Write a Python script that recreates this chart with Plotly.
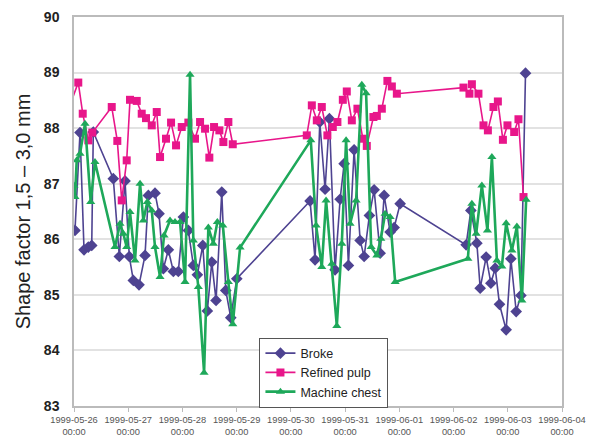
import numpy as np
import pandas as pd
import plotly.graph_objects as go

START = pd.Timestamp("1999-05-26 00:00")

# elapsed days from 1999-05-26 00:00 and values
broke_days = [0.018, 0.111, 0.185, 0.264, 0.327, 0.356, 0.725, 0.836, 0.941, 1.020,
              1.094, 1.199, 1.310, 1.371, 1.494, 1.568, 1.648, 1.740, 1.832, 1.924,
              2.017, 2.109, 2.201, 2.275, 2.375, 2.459, 2.541, 2.620, 2.725, 2.799,
              2.891, 3.002, 4.354, 4.446, 4.533, 4.631, 4.710, 4.815, 4.908, 4.982,
              5.061, 5.166, 5.277, 5.351, 5.448, 5.535, 5.646, 5.720, 5.830, 5.904,
              6.015, 7.232, 7.319, 7.430, 7.491, 7.601, 7.688, 7.768, 7.847, 7.970,
              8.057, 8.155, 8.242, 8.327]
broke_vals = [86.16, 87.92, 85.81, 85.86, 85.89, 87.93, 87.09, 85.69, 87.05, 85.69,
              85.26, 85.18, 85.71, 86.79, 86.83, 86.46, 85.47, 85.81, 85.42, 85.42,
              86.40, 86.16, 85.53, 85.36, 85.89, 84.71, 85.59, 84.90, 86.85, 85.08,
              84.59, 85.29, 86.69, 85.63, 88.11, 86.90, 88.17, 85.45, 86.72, 87.36,
              85.53, 87.61, 85.98, 85.69, 86.43, 86.89, 85.75, 86.79, 86.13, 86.21,
              86.64, 85.90, 86.52, 85.93, 85.12, 85.68, 85.21, 85.48, 84.83, 84.37,
              85.65, 84.70, 84.99, 88.99]

pulp_days = [-0.08, 0.079, 0.161, 0.264, 0.338, 0.696, 0.799, 0.880, 0.972, 1.033,
             1.157, 1.249, 1.328, 1.434, 1.526, 1.587, 1.697, 1.790, 1.882, 1.987,
             2.109, 2.232, 2.325, 2.417, 2.496, 2.583, 2.681, 2.755, 2.847, 2.928,
             4.293, 4.386, 4.478, 4.570, 4.673, 4.773, 4.858, 4.958, 5.031, 5.124,
             5.227, 5.327, 5.400, 5.522, 5.585, 5.677, 5.780, 5.862, 5.954, 7.183,
             7.293, 7.338, 7.459, 7.552, 7.633, 7.736, 7.817, 7.910, 7.994, 8.118,
             8.197, 8.290]
pulp_vals = [88.40, 88.82, 88.26, 87.78, 87.92, 88.38, 87.77, 86.70, 87.42, 88.51,
             88.49, 88.26, 88.18, 88.05, 88.29, 87.48, 87.81, 88.10, 87.69, 88.02,
             88.10, 87.81, 88.11, 87.99, 87.47, 88.02, 87.96, 87.75, 88.11, 87.71,
             87.87, 88.41, 88.14, 88.38, 87.87, 88.02, 88.11, 88.51, 88.66, 88.14,
             88.35, 87.81, 87.68, 88.20, 88.22, 88.35, 88.85, 88.75, 88.62, 88.73,
             88.62, 88.79, 88.62, 88.05, 87.96, 88.38, 88.48, 87.79, 88.05, 87.93,
             88.16, 86.76]

chest_days = [0.000, 0.018, 0.050, 0.111, 0.203, 0.308, 0.387, 0.756, 0.849, 0.910,
              0.972, 1.033, 1.125, 1.218, 1.279, 1.352, 1.434, 1.494, 1.587, 1.661,
              1.771, 1.863, 1.956, 2.048, 2.140, 2.201, 2.293, 2.399, 2.478, 2.570,
              2.644, 2.744, 2.847, 2.928, 3.063, 4.367, 4.465, 4.570, 4.649, 4.755,
              4.847, 4.939, 5.018, 5.092, 5.203, 5.308, 5.387, 5.480, 5.585, 5.659,
              5.738, 5.830, 5.923, 7.264, 7.338, 7.417, 7.522, 7.625, 7.707, 7.799,
              7.891, 7.970, 8.076, 8.168, 8.260, 8.339]
chest_vals = [86.97, 86.76, 87.42, 87.54, 88.08, 86.67, 87.39, 85.86, 86.28, 86.10,
              85.86, 86.49, 85.62, 87.00, 86.34, 86.67, 86.52, 85.86, 85.32, 86.07,
              86.34, 86.31, 86.31, 85.23, 88.96, 85.98, 85.14, 83.60, 86.21, 85.92,
              86.31, 86.25, 85.23, 84.47, 85.85, 87.78, 86.25, 85.50, 86.70, 85.56,
              84.44, 85.92, 87.78, 86.28, 86.70, 88.78, 88.63, 85.86, 85.71, 86.01,
              86.46, 86.40, 85.23, 85.65, 86.64, 86.10, 86.97, 86.16, 87.48, 85.62,
              85.51, 86.29, 85.80, 86.23, 84.90, 86.71]


def to_dates(days):
    return START + pd.to_timedelta(np.array(days) * 86400.0, unit="s")


FONT = "Arial, Liberation Sans, sans-serif"

fig = go.Figure()
fig.add_trace(go.Scatter(
    x=to_dates(broke_days), y=broke_vals, name="Broke", mode="lines+markers",
    line=dict(color="#4e4391", width=1.6),
    marker=dict(symbol="diamond", size=9, color="#4e4391")))
fig.add_trace(go.Scatter(
    x=to_dates(pulp_days), y=pulp_vals, name="Refined pulp", mode="lines+markers",
    line=dict(color="#e8168a", width=1.6),
    marker=dict(symbol="square", size=8, color="#e8168a")))
fig.add_trace(go.Scatter(
    x=to_dates(chest_days), y=chest_vals, name="Machine chest", mode="lines+markers",
    line=dict(color="#1ea85a", width=2.6),
    marker=dict(symbol="triangle-up", size=8, color="#1ea85a")))

fig.update_layout(
    width=594, height=439,
    margin=dict(l=74, r=32, t=17, b=33),
    paper_bgcolor="white", plot_bgcolor="white",
    font=dict(family=FONT, color="#222"),
    showlegend=True,
    legend=dict(x=0.38, y=0.176, xanchor="left", yanchor="top",
                bgcolor="white", bordercolor="#555", borderwidth=1,
                font=dict(size=12.5, color="#222"), tracegroupgap=0,
                itemwidth=30),
)
fig.update_xaxes(
    type="date", automargin=False,
    range=[START, START + pd.Timedelta(days=9)],
    dtick=86400000, tick0=START,
    tickformat="%Y-%m-%d<br>%H:%M", tickangle=0,
    tickfont=dict(size=9.3, color="#555"),
    showgrid=False, showline=True, linecolor="#bbb", linewidth=1.5, mirror=True,
    ticks="outside", ticklen=4, tickcolor="#bbb",
    zeroline=False,
)
fig.update_yaxes(
    range=[83, 90], dtick=1, tick0=83, automargin=False,
    tickfont=dict(size=14, color="#222", weight="bold"),
    ticklabelstandoff=10,
    showgrid=True, gridcolor="#e2e2e2", gridwidth=1.5,
    showline=True, linecolor="#bbb", linewidth=1.5, mirror=True,
    zeroline=False,
    title=dict(text="Shape factor 1,5 – 3,0 mm", font=dict(size=20, color="#222"),
               standoff=8),
)

fig.write_html("out.html")
